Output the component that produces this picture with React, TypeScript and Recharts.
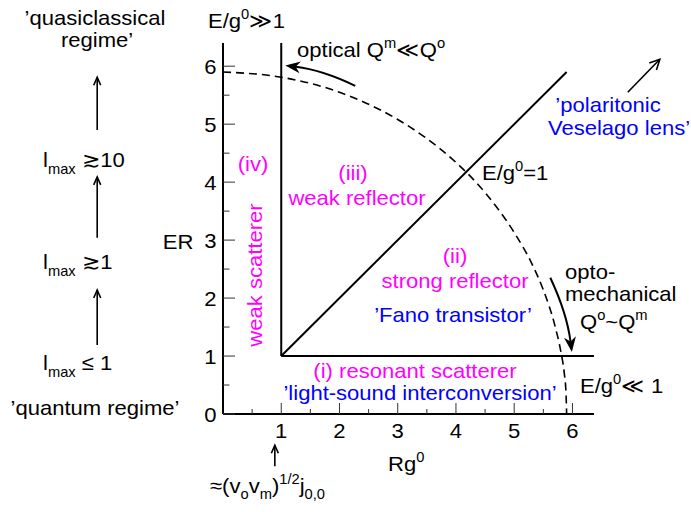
import React from 'react';
import { LineChart, Line, XAxis, YAxis, ReferenceLine } from 'recharts';

const FONT = "'Liberation Sans', Arial, Helvetica, sans-serif";
const SX = 1.05;
const MAGENTA = '#ff00ff';
const BLUE = '#0000ff';

// axes
const xDomain = [0, 6.37];
const yDomain = [0, 6.4];
const xTickValues = [0.5, 1, 1.5, 2, 2.5, 3, 3.5, 4, 4.5, 5, 5.5, 6];
const yTickValues = [0, 0.5, 1, 1.5, 2, 2.5, 3, 3.5, 4, 4.5, 5, 5.5, 6];

// regime boundaries (Rg0, ER)
const boundaryVertical = [{ x: 1, y: 1 }, { x: 1, y: 6.4 }];
const boundaryHorizontal = [{ x: 1, y: 1 }, { x: 6.37, y: 1 }];
const diagonalE1 = [{ x: 1, y: 1 }, { x: 5.9, y: 5.9 }];
const dashedBoundary = [
  { x: 0, y: 5.9 }, { x: 1, y: 5.81 }, { x: 2, y: 5.55 }, { x: 3, y: 5.08 },
  { x: 3.5, y: 4.75 }, { x: 4, y: 4.34 }, { x: 4.5, y: 3.82 }, { x: 5, y: 3.13 },
  { x: 5.3, y: 2.6 }, { x: 5.5, y: 2.14 }, { x: 5.7, y: 1.52 }, { x: 5.8, y: 1.08 },
  { x: 5.86, y: 0.7 }, { x: 5.89, y: 0.35 }, { x: 5.9, y: 0 },
];

// annotation arrows (start -> tip), in data units
const arrowOptical = [{ x: 2.27, y: 5.66 }, { x: 1.07, y: 6.01 }];
const arrowOpto = [{ x: 5.62, y: 2.35 }, { x: 5.99, y: 1.07 }];
const arrowPolariton = [{ x: 6.95, y: 5.55 }, { x: 7.5, y: 6.12 }];
const arrowRegime1 = [{ x: -2.16, y: 4.9 }, { x: -2.16, y: 5.81 }];
const arrowRegime2 = [{ x: -2.16, y: 3.04 }, { x: -2.16, y: 4.09 }];
const arrowRegime3 = [{ x: -2.16, y: 1.19 }, { x: -2.16, y: 2.14 }];
const arrowBessel = [{ x: 0.89, y: -0.9 }, { x: 0.89, y: -0.54 }];

type Part = string | { t: string; k: 'sup' | 'sub'; off?: number };

type TProps = {
  x: number; y: number; parts: Part[]; anchor?: 'start' | 'middle' | 'end';
  size?: number; fill?: string; rotate?: number;
};
const T = ({ x, y, parts, anchor = 'start', size = 21, fill = '#000', rotate = 0 }: TProps) => {
  let cur = 0;
  const spans = parts.map((p, i) => {
    let target = 0;
    let text = '';
    let fs = size;
    if (typeof p === 'string') {
      text = p;
    } else {
      text = p.t;
      fs = 14;
      target = p.k === 'sup' ? -(p.off ?? 9) : (p.off ?? 7);
    }
    const dy = target - cur;
    cur = target;
    return (
      <tspan key={i} dy={dy || undefined} fontSize={fs}>
        {text}
      </tspan>
    );
  });
  return (
    <g transform={`translate(${x},${y}) rotate(${rotate}) scale(${SX},1)`}>
      <text x={0} y={0} textAnchor={anchor} fontSize={size} fill={fill} fontFamily={FONT}>
        {spans}
      </text>
    </g>
  );
};

const XTick = (props: any) => {
  const { x, y, payload } = props;
  const v = payload.value as number;
  const major = Number.isInteger(v);
  return (
    <g>
      <line x1={x} x2={x} y1={y} y2={y - (major ? 11 : 5)} stroke="#333" strokeWidth={1} />
      {major && <T x={x} y={y + 23.5} anchor="middle" parts={[String(v)]} />}
    </g>
  );
};

const YTick = (props: any) => {
  const { x, y, payload } = props;
  const v = payload.value as number;
  const major = Number.isInteger(v);
  return (
    <g>
      <line x1={x} x2={x + (major ? 12 : 6.5)} y1={y} y2={y} stroke="#333" strokeWidth={1} />
      {major && <T x={x - 6.5} y={y + 7.5} anchor="end" parts={[String(v)]} />}
    </g>
  );
};

type ArrowOpts = { bend: number; head: 'filled' | 'open'; size: number; width: number; sw: number };
const arrowShape = (o: ArrowOpts) => (p: any) => {
  const { x1, y1, x2, y2 } = p;
  if ([x1, y1, x2, y2].some((v) => typeof v !== 'number' || isNaN(v))) return <g />;
  const dx = x2 - x1;
  const dy = y2 - y1;
  const L = Math.hypot(dx, dy) || 1;
  const nx = -dy / L;
  const ny = dx / L;
  const cx = (x1 + x2) / 2 + nx * o.bend * 2;
  const cy = (y1 + y2) / 2 + ny * o.bend * 2;
  let tx = x2 - cx;
  let ty = y2 - cy;
  const tl = Math.hypot(tx, ty) || 1;
  tx /= tl;
  ty /= tl;
  const px = -ty;
  const py = tx;
  const bx = x2 - tx * o.size;
  const by = y2 - ty * o.size;
  if (o.head === 'filled') {
    const nxp = x2 - tx * o.size * 0.7;
    const nyp = y2 - ty * o.size * 0.7;
    return (
      <g>
        <path d={`M${x1},${y1} Q${cx},${cy} ${nxp},${nyp}`} stroke="#000" strokeWidth={o.sw} fill="none" />
        <polygon
          points={`${x2},${y2} ${bx + px * o.width},${by + py * o.width} ${nxp},${nyp} ${bx - px * o.width},${by - py * o.width}`}
          fill="#000"
        />
      </g>
    );
  }
  return (
    <g>
      <path d={`M${x1},${y1} Q${cx},${cy} ${x2},${y2}`} stroke="#000" strokeWidth={o.sw} fill="none" />
      <path
        d={`M${bx + px * o.width},${by + py * o.width} L${x2},${y2} L${bx - px * o.width},${by - py * o.width}`}
        stroke="#000"
        strokeWidth={o.sw}
        fill="none"
      />
    </g>
  );
};

const arrowSeg = (seg: { x: number; y: number }[], o: ArrowOpts, key: string) => (
  <ReferenceLine key={key} segment={seg} ifOverflow="visible" stroke="#000" shape={arrowShape(o)} />
);

const lineProps = {
  dataKey: 'y',
  stroke: '#000',
  dot: false,
  activeDot: false,
  isAnimationActive: false,
  legendType: 'none' as const,
};

const sup = (t: string, off?: number): Part => ({ t, k: 'sup', off });
const sub = (t: string, off?: number): Part => ({ t, k: 'sub', off });

export default function App() {
  return (
    <div style={{ position: 'absolute', left: 0, top: 0, background: '#fff' }}>
      <LineChart width={691} height={512} margin={{ top: 43, right: 97, bottom: 0, left: 0 }}>
        <XAxis
          type="number"
          dataKey="x"
          domain={xDomain}
          ticks={xTickValues}
          interval={0}
          height={98}
          tickSize={0}
          tickMargin={0}
          tickLine={false}
          axisLine={{ stroke: '#000', strokeWidth: 2 }}
          tick={<XTick />}
          allowDataOverflow
        />
        <YAxis
          type="number"
          dataKey="y"
          domain={yDomain}
          ticks={yTickValues}
          interval={0}
          width={223}
          tickSize={0}
          tickMargin={0}
          tickLine={false}
          axisLine={{ stroke: '#000', strokeWidth: 2 }}
          tick={<YTick />}
          allowDataOverflow
        />
        <Line {...lineProps} data={boundaryVertical} strokeWidth={2} />
        <Line {...lineProps} data={boundaryHorizontal} strokeWidth={2} />
        <Line {...lineProps} data={diagonalE1} strokeWidth={2} />
        <Line {...lineProps} data={dashedBoundary} type="monotone" strokeWidth={1.6} strokeDasharray="8 5" />

        {arrowSeg(arrowOptical, { bend: 3, head: 'filled', size: 15, width: 6, sw: 2 }, 'a1')}
        {arrowSeg(arrowOpto, { bend: -3, head: 'filled', size: 15, width: 6, sw: 2 }, 'a2')}
        {arrowSeg(arrowPolariton, { bend: 0, head: 'open', size: 10, width: 5, sw: 1.6 }, 'a3')}
        {arrowSeg(arrowRegime1, { bend: 0, head: 'open', size: 8, width: 3.5, sw: 1.6 }, 'a4')}
        {arrowSeg(arrowRegime2, { bend: 0, head: 'open', size: 8, width: 3.5, sw: 1.6 }, 'a5')}
        {arrowSeg(arrowRegime3, { bend: 0, head: 'open', size: 8, width: 3.5, sw: 1.6 }, 'a6')}
        {arrowSeg(arrowBessel, { bend: 0, head: 'open', size: 8, width: 3.5, sw: 1.6 }, 'a7')}

        {/* left column */}
        <T x={95} y={25} anchor="middle" parts={['\u2019quasiclassical']} />
        <T x={97} y={47} anchor="middle" parts={['regime\u2019']} />
        <T x={43} y={167} parts={['l', sub('max'), ' \u227310']} />
        <T x={43} y={269} parts={['l', sub('max'), ' \u22731']} />
        <T x={43} y={370} parts={['l', sub('max'), ' \u2264 1']} />
        <T x={95} y={415} anchor="middle" parts={['\u2019quantum regime\u2019']} />

        {/* axis titles */}
        <T x={208} y={28} parts={['E/g', sup('0'), '\u226B1']} />
        <T x={178} y={249} anchor="middle" parts={['ER']} />
        <T x={388} y={471} parts={['Rg', sup('0')]} />
        <T
          x={210}
          y={493}
          parts={['\u2248(v', sub('o', 6), 'v', sub('m', 6), ')', sup('1/2'), 'j', sub('0,0', 6)]}
        />

        {/* regimes */}
        <T x={253} y={171} anchor="middle" fill={MAGENTA} parts={['(iv)']} />
        <T x={262} y={275} anchor="middle" fill={MAGENTA} rotate={-90} parts={['weak scatterer']} />
        <T x={353} y={180} anchor="middle" fill={MAGENTA} parts={['(iii)']} />
        <T x={357} y={205} anchor="middle" fill={MAGENTA} parts={['weak reflector']} />
        <T x={455} y={263} anchor="middle" fill={MAGENTA} parts={['(ii)']} />
        <T x={455} y={288} anchor="middle" fill={MAGENTA} parts={['strong reflector']} />
        <T x={453} y={322} anchor="middle" fill={BLUE} parts={['\u2019Fano transistor\u2019']} />
        <T x={415} y={378} anchor="middle" fill={MAGENTA} parts={['(i) resonant scatterer']} />
        <T x={420} y={400} anchor="middle" fill={BLUE} parts={['\u2019light-sound interconversion\u2019']} />

        {/* other annotations */}
        <T x={297} y={57} parts={['optical Q', sup('m'), '\u226AQ', sup('o')]} />
        <T x={482} y={180} parts={['E/g', sup('0'), '=1']} />
        <T x={580} y={393} parts={['E/g', sup('0'), '\u226A 1']} />
        <T x={608} y={112} anchor="middle" fill={BLUE} parts={['\u2019polaritonic']} />
        <T x={619} y={135} anchor="middle" fill={BLUE} parts={['Veselago lens\u2019']} />
        <T x={565} y={279} parts={['opto-']} />
        <T x={565} y={301} parts={['mechanical']} />
        <T x={580} y={329} parts={['Q', sup('o'), '~Q', sup('m')]} />
      </LineChart>
    </div>
  );
}
